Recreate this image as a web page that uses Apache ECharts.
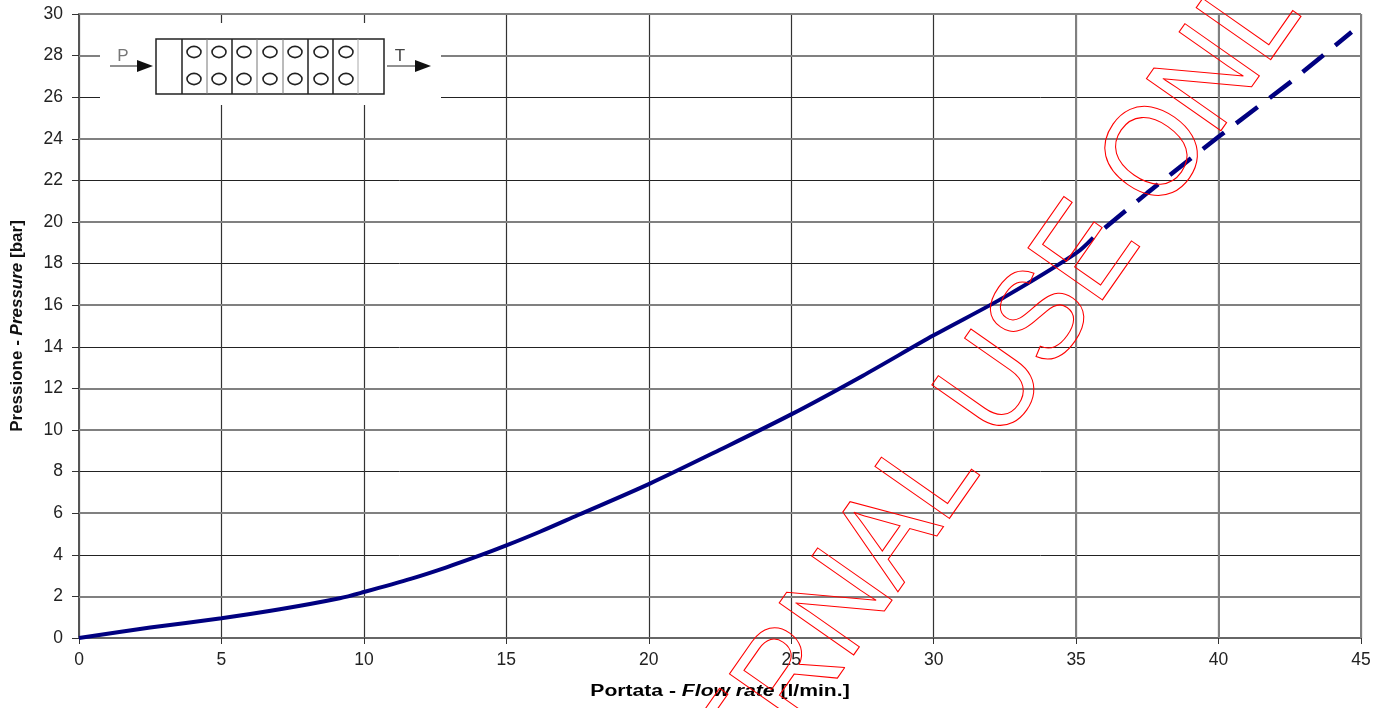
<!DOCTYPE html>
<html><head><meta charset="utf-8">
<style>html,body{margin:0;padding:0;background:#fff;overflow:hidden}#c{width:1387px;height:708px}</style>
<script src="https://cdn.jsdelivr.net/npm/echarts@6/dist/echarts.min.js"></script>
</head><body><div id="c"></div>
<script>
const solidFlow = [0,2.5,5,7.05,9.15,10,11.7,12.9,14.1,15,16.2,17.5,20,22.5,25,27.5,30,32.5,35,35.6];
const solidPressure = [0,0.5,0.95,1.38,1.91,2.21,2.87,3.4,3.98,4.45,5.12,5.9,7.4,9.05,10.75,12.6,14.55,16.4,18.5,19.25];
const dashedFlow = [35.6,37.5,40,42.5,44.67];
const dashedPressure = [19.25,21.4,24.1,26.7,29.13];
const greyHorizontal = [2,6,10,12,16,20,24,28,30];
const greyVertical = [35,40,45];
const xTicks = {min:0,max:45,step:5};
const yTicks = {min:0,max:30,step:2};
const xTitle = ['Portata - ','Flow rate',' [l/min.]'];
const yTitle = ['Pressione - ','Pressure',' [bar]'];
const watermark = 'INTERNAL USE ONLY';

const chart = echarts.init(document.getElementById('c'));
const zip = (a,b)=>a.map((v,i)=>[v,b[i]]);
const font = '"Liberation Sans", Arial, sans-serif';
const rich = s=>({
  b:{fontFamily:font,fontWeight:'bold',fontSize:s,color:'#111'},
  i:{fontFamily:font,fontWeight:'bold',fontStyle:'italic',fontSize:s,color:'#111'}
});
const fmt = t=>`{b|${t[0]}}{i|${t[1]}}{b|${t[2]}}`;

const g = [];
g.push({type:'rect',z:20,shape:{x:100,y:23,width:341,height:82},style:{fill:'#fff'}});
const ln=(x1,y1,x2,y2,c,w)=>g.push({type:'line',z:21,shape:{x1,y1,x2,y2},style:{stroke:c,lineWidth:w}});
g.push({type:'rect',z:21,shape:{x:156,y:39,width:228,height:55},style:{fill:'#fff',stroke:'#222',lineWidth:1.5}});
[[182,'#222',1.5],[207,'#777',1],[232,'#222',1.5],[257,'#777',1],[283,'#777',1],[308,'#222',1.5],[333,'#222',1.5],[358,'#aaa',1]]
  .forEach(d=>ln(d[0],39,d[0],94,d[1],d[2]));
[194,219,244,270,295,321,346].forEach(x=>[52,79].forEach(y=>
  g.push({type:'ellipse',z:22,shape:{cx:x,cy:y,rx:7,ry:5.6},style:{fill:'#fff',stroke:'#222',lineWidth:1.6}})));
[[110,153],[387,431]].forEach(a=>{
  ln(a[0],66,a[1]-8,66,'#222',1);
  g.push({type:'polygon',z:22,shape:{points:[[a[1],66],[a[1]-16,60],[a[1]-16,72]]},style:{fill:'#111'}});
});
g.push({type:'text',z:22,x:123,y:56,style:{text:'P',fontFamily:font,fontSize:17,fill:'#777',align:'center',verticalAlign:'middle'}});
g.push({type:'text',z:22,x:400,y:56,style:{text:'T',fontFamily:font,fontSize:17,fill:'#444',align:'center',verticalAlign:'middle'}});
g.push({type:'text',z:30,x:963,y:435.5,rotation:55*Math.PI/180,scaleY:1.1,silent:true,
  style:{text:watermark,fontFamily:font,fontSize:120,fill:'transparent',stroke:'#ff0000',lineWidth:1,align:'center',verticalAlign:'middle'}});
g.push({type:'text',z:10,x:720,y:692,scaleX:1.32,silent:true,
  style:{text:fmt(xTitle),rich:rich(16),align:'center',verticalAlign:'middle'}});

chart.setOption({
  animation:false,
  backgroundColor:'#fff',
  grid:{left:79,right:26,top:14,bottom:70,outerBoundsMode:'none',containLabel:false},
  xAxis:{type:'value',min:xTicks.min,max:xTicks.max,interval:xTicks.step,
    axisLine:{onZero:false,lineStyle:{color:'#666',width:2}},
    axisTick:{length:6,lineStyle:{color:'#333',width:1}},
    axisLabel:{fontFamily:font,fontSize:17.5,color:'#222',margin:13},
    splitLine:{show:true,lineStyle:{color:'#333',width:1.2}}},
  yAxis:{type:'value',min:yTicks.min,max:yTicks.max,interval:yTicks.step,
    name:fmt(yTitle),nameLocation:'middle',nameGap:53,nameTextStyle:{rich:rich(17)},
    axisLine:{show:true,onZero:false,lineStyle:{color:'#555',width:2}},
    axisTick:{show:true,length:7,lineStyle:{color:'#333',width:1}},
    axisLabel:{fontFamily:font,fontSize:17.5,color:'#222',margin:16},
    splitLine:{show:true,lineStyle:{color:'#222',width:1}}},
  graphic:g,
  series:[
    {type:'line',data:zip(solidFlow,solidPressure),symbol:'none',smooth:0.3,z:5,
     lineStyle:{color:'#000080',width:4},
     markLine:{silent:true,symbol:'none',label:{show:false},z:3,
       lineStyle:{color:'#808080',width:2,type:'solid'},
       data:greyHorizontal.map(v=>({yAxis:v})).concat(greyVertical.map(v=>({xAxis:v})))}},
    {type:'line',data:zip(dashedFlow,dashedPressure),symbol:'none',z:5,
     lineStyle:{color:'#000080',width:4.5,type:[27,15],dashOffset:27}}
  ]
});
</script></body></html>
